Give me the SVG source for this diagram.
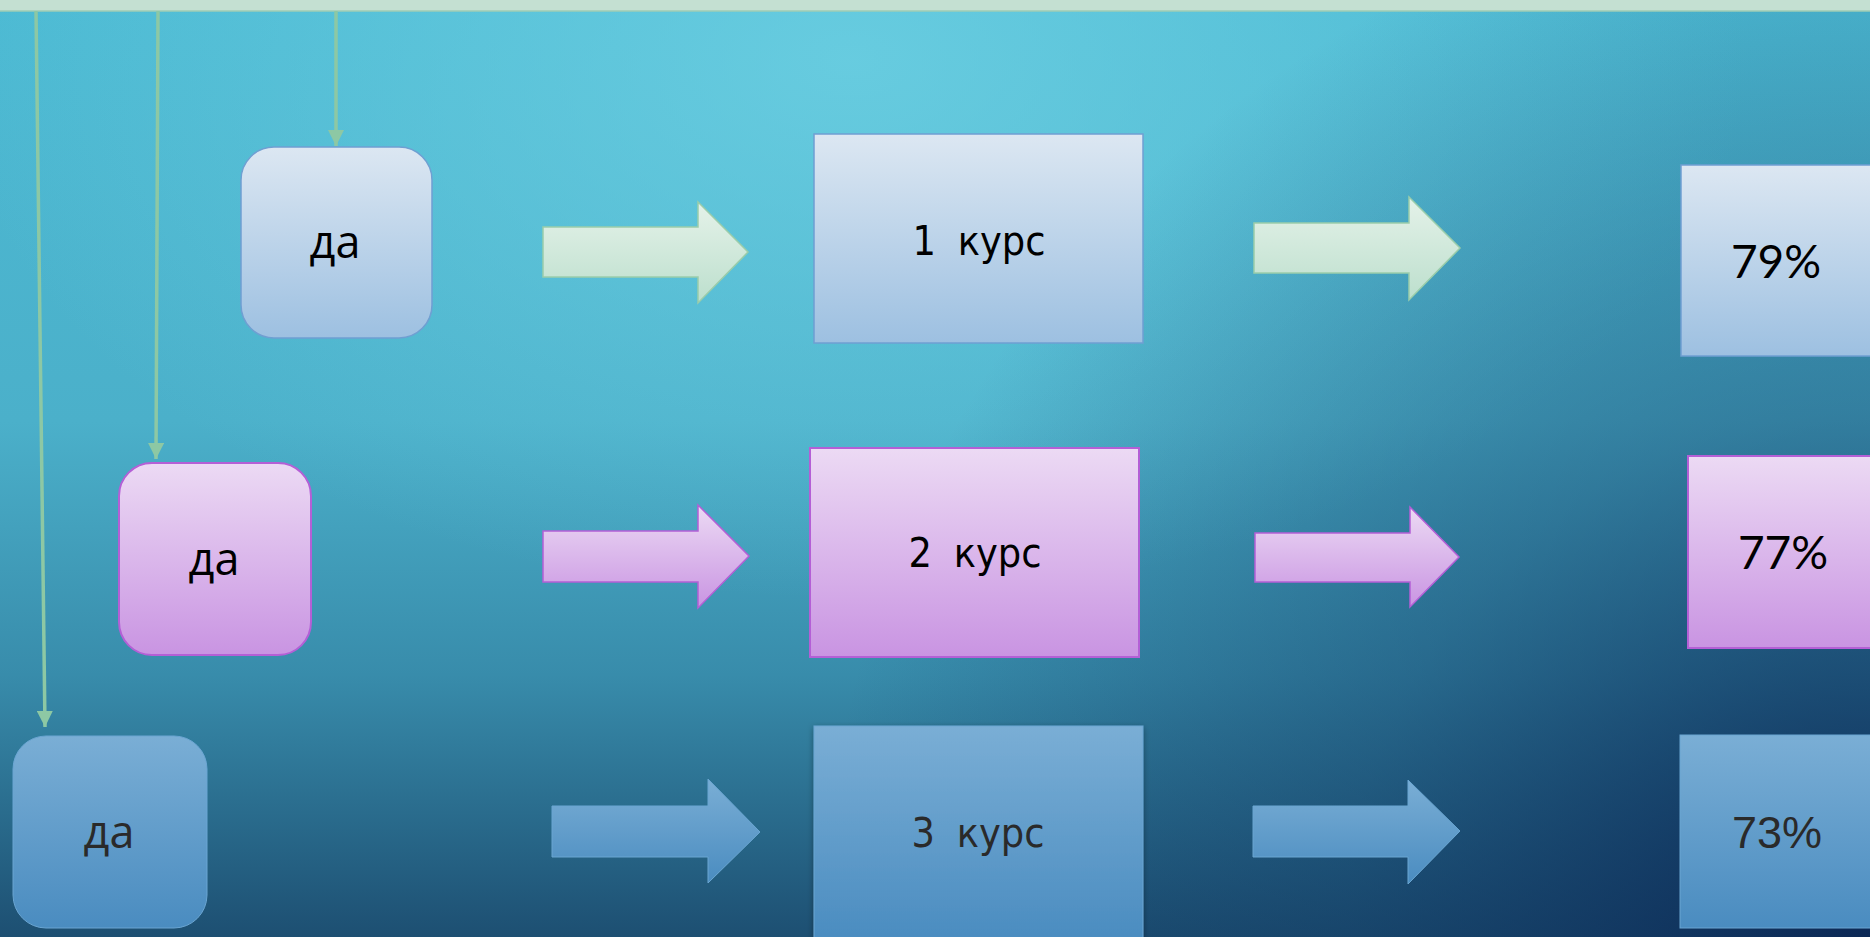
<svg xmlns="http://www.w3.org/2000/svg" width="1870" height="937" viewBox="0 0 1870 937">
<defs>
<linearGradient id="bg" x1="0" y1="0" x2="0" y2="1">
<stop offset="0" stop-color="#4cbad3"/>
<stop offset="0.45" stop-color="#4bb0ca"/>
<stop offset="0.72" stop-color="#388cab"/>
<stop offset="1" stop-color="#1d4f72"/>
</linearGradient>
<radialGradient id="hi" gradientUnits="userSpaceOnUse" cx="850" cy="60" r="900" gradientTransform="translate(850 60) scale(1 0.6) translate(-850 -60)">
<stop offset="0" stop-color="#70d2e4" stop-opacity="0.75"/>
<stop offset="1" stop-color="#70d2e4" stop-opacity="0"/>
</radialGradient>
<radialGradient id="dark" gradientUnits="userSpaceOnUse" cx="1870" cy="937" r="1050">
<stop offset="0" stop-color="#0a2452" stop-opacity="0.9"/>
<stop offset="0.5" stop-color="#0f3560" stop-opacity="0.4"/>
<stop offset="1" stop-color="#0f3560" stop-opacity="0"/>
</radialGradient>
<linearGradient id="gBlueL" x1="0" y1="0" x2="0" y2="1">
<stop offset="0" stop-color="#dce7f2"/>
<stop offset="1" stop-color="#9dc0e1"/>
</linearGradient>
<linearGradient id="gPurple" x1="0" y1="0" x2="0" y2="1">
<stop offset="0" stop-color="#ecdaf4"/>
<stop offset="1" stop-color="#c994e2"/>
</linearGradient>
<linearGradient id="gBlueD" x1="0" y1="0" x2="0" y2="1">
<stop offset="0" stop-color="#7aaed5"/>
<stop offset="1" stop-color="#4a8cc0"/>
</linearGradient>
<linearGradient id="gGreen" x1="0" y1="0" x2="0" y2="1">
<stop offset="0" stop-color="#e5f2e9"/>
<stop offset="1" stop-color="#bcdfcd"/>
</linearGradient>
<filter id="shadow" x="-10%" y="-10%" width="120%" height="120%">
<feDropShadow dx="0" dy="2" stdDeviation="3" flood-color="#000" flood-opacity="0.35"/>
</filter>
<marker id="ah" viewBox="0 0 10 10" refX="10" refY="5" markerWidth="16" markerHeight="16" markerUnits="userSpaceOnUse" orient="auto">
<path d="M0,0 L10,5 L0,10 z" fill="#8dc8a4"/>
</marker>
<style>
.line{stroke:#8dc8a4;stroke-width:3.5;fill:none}
.da{font-family:"Open Sans","Noto Sans",sans-serif;font-size:45px;text-anchor:middle;fill:#000}
.kurs{font-family:"DejaVu Sans Condensed","Liberation Sans Narrow","Liberation Sans",sans-serif;font-stretch:condensed;font-size:41px;word-spacing:10px;text-anchor:middle;fill:#000}
.pct{font-family:Lato,"Liberation Sans",sans-serif;font-size:46px;text-anchor:middle;fill:#000}
.pct3{font-family:"Liberation Sans",Arial,sans-serif;font-size:45px;text-anchor:middle;fill:#2a2a2a}
.bl{fill:url(#gBlueL);stroke:#6f9fd2;stroke-width:1.5}
.pu{fill:url(#gPurple);stroke:#b45fd6;stroke-width:2}
.bd{fill:url(#gBlueD);stroke:#6aa5d2;stroke-width:1}
.ag{fill:url(#gGreen);stroke:#9acdaa;stroke-width:1.5}
.ap{fill:url(#gPurple);stroke:#b45fd6;stroke-width:1.5}
.ab{fill:url(#gBlueD);stroke:#6aa6d2;stroke-width:1}
.dk{fill:#2a2a2a}
</style>
</defs>
<rect x="0" y="0" width="1870" height="937" fill="url(#bg)"/>
<rect x="0" y="0" width="1870" height="937" fill="url(#hi)"/>
<rect x="0" y="0" width="1870" height="937" fill="url(#dark)"/>
<rect x="0" y="0" width="1870" height="11" fill="#c4e0d2"/>
<line x1="0" y1="11" x2="1870" y2="11" stroke="#9fcdb5" stroke-width="1.5"/>

<g id="connectors">
<line class="line" x1="36" y1="11" x2="45" y2="727" marker-end="url(#ah)"/>
<line class="line" x1="158" y1="11" x2="156" y2="459" marker-end="url(#ah)"/>
<line class="line" x1="336" y1="11" x2="336" y2="146" marker-end="url(#ah)"/>
<g id="block-arrows">
<path class="ag" d="M543,227 H698 V202 L748,252 L698,303 V277 H543 Z"/>
<path class="ag" d="M1254,223 H1409 V197 L1460,248 L1409,300 V273 H1254 Z"/>
<path class="ap" d="M543,531 H698 V505 L749,556 L698,608 V582 H543 Z"/>
<path class="ap" d="M1255,533 H1410 V507 L1459,557 L1410,607 V582 H1255 Z"/>
<path class="ab" d="M552,806 H708 V779 L760,832 L708,883 V857 H552 Z"/>
<path class="ab" d="M1253,806 H1408 V780 L1460,831 L1408,884 V857 H1253 Z"/>
</g>
</g>

<g id="da1"><rect class="bl" x="241" y="147" width="191" height="191" rx="33"/><text class="da" x="335" y="258">да</text></g>
<g id="da2"><rect class="pu" x="119" y="463" width="192" height="192" rx="33"/><text class="da" x="214" y="575">да</text></g>
<g id="da3"><rect class="bd" x="13" y="736" width="194" height="192" rx="33"/><text class="da dk" x="109" y="848">да</text></g>

<g id="kurs1"><rect class="bl" x="814" y="134" width="329" height="209"/><text class="kurs" x="979" y="255">1 курс</text></g>
<g id="kurs2"><rect class="pu" x="810" y="448" width="329" height="209"/><text class="kurs" x="975" y="567">2 курс</text></g>
<g id="kurs3"><rect class="bd" x="814" y="726" width="329" height="215" filter="url(#shadow)"/><text class="kurs dk" x="978" y="847">3 курс</text></g>

<g id="pct1"><rect class="bl" x="1681" y="165" width="220" height="191"/><text class="pct" x="1776" y="278">79%</text></g>
<g id="pct2"><rect class="pu" x="1688" y="456" width="220" height="192"/><text class="pct" x="1783" y="569">77%</text></g>
<g id="pct3"><rect class="bd" x="1680" y="735" width="220" height="193"/><text class="pct3" x="1777" y="848">73%</text></g>
</svg>
